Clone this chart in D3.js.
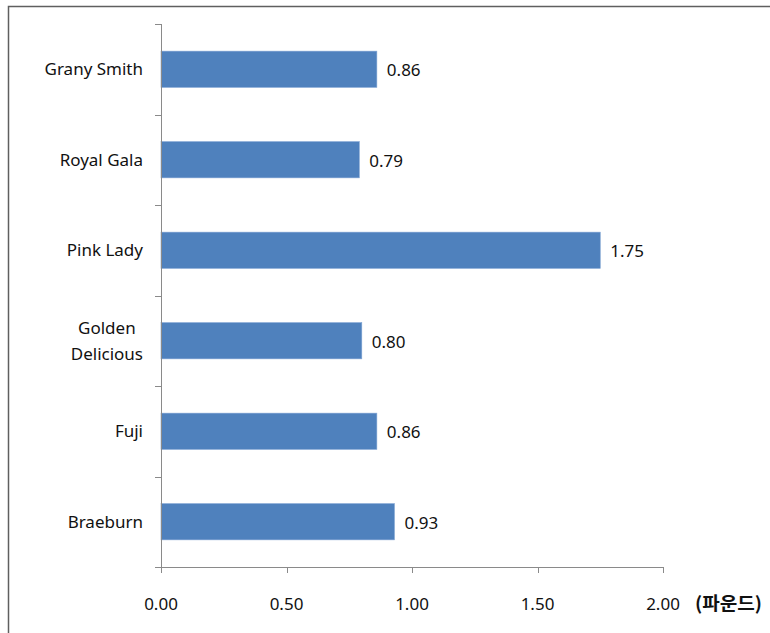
<!DOCTYPE html>
<html><head><meta charset="utf-8">
<script src="https://cdn.jsdelivr.net/npm/d3@7"></script>
<style>body{margin:0;background:#fff}svg{display:block}text{font-family:"Noto Sans","Noto Sans CJK KR",sans-serif;fill:#111}</style>
</head><body>
<script>
const categories = ["Grany Smith","Royal Gala","Pink Lady","Golden Delicious","Fuji","Braeburn"];
const categoryLines = [["Grany Smith"],["Royal Gala"],["Pink Lady"],["Golden","Delicious"],["Fuji"],["Braeburn"]];
const values = [0.86,0.79,1.75,0.80,0.86,0.93];
const xTicks = [0,0.5,1.0,1.5,2.0];
const unitLabel = "(파운드)";

const W=770,H=633;
const svg=d3.select("body").append("svg").attr("width",W).attr("height",H);
svg.append("rect").attr("x",8.5).attr("y",6.5).attr("width",900).attr("height",900)
  .attr("fill","none").attr("stroke","#5f5f5f").attr("stroke-width",1.5);

const pL=161,pR=663,pT=24,pB=567;
const x=d3.scaleLinear().domain([0,2]).range([pL,pR]);
const y=d3.scaleBand().domain(categories).range([pT,pB]).paddingInner(0.6).paddingOuter(0.3);
const fs=17;

// bars
svg.selectAll("rect.bar").data(values).join("rect").attr("class","bar")
  .attr("x",x(0)).attr("y",(d,i)=>y(categories[i]))
  .attr("width",d=>x(d)-x(0)).attr("height",y.bandwidth())
  .attr("fill","#4f81bd").attr("stroke","#7ea3d2").attr("stroke-width",0.6);

// value labels
svg.selectAll("text.val").data(values).join("text").attr("class","val")
  .attr("x",d=>x(d)+10).attr("y",(d,i)=>y(categories[i])+y.bandwidth()/2+1)
  .attr("dy","0.35em").attr("font-size",fs).text(d=>d.toFixed(2));

// axes
const axisColor="#8a8a8a";
svg.append("line").attr("x1",pL+0.5).attr("x2",pL+0.5).attr("y1",pT).attr("y2",pB+6).attr("stroke",axisColor);
svg.append("line").attr("x1",pL-6).attr("x2",pR).attr("y1",pB+0.5).attr("y2",pB+0.5).attr("stroke",axisColor);
// y ticks at band boundaries
const step=(pB-pT)/categories.length;
d3.range(categories.length+1).forEach(i=>{
  const yy=Math.round(pT+i*step)+0.5;
  svg.append("line").attr("x1",pL-6).attr("x2",pL).attr("y1",yy).attr("y2",yy).attr("stroke",axisColor);
});
// x ticks
svg.selectAll("line.xt").data(xTicks).join("line").attr("class","xt")
  .attr("x1",d=>Math.round(x(d))+0.5).attr("x2",d=>Math.round(x(d))+0.5)
  .attr("y1",pB).attr("y2",pB+6).attr("stroke",axisColor);
svg.selectAll("text.xl").data(xTicks).join("text").attr("class","xl")
  .attr("x",d=>x(d)).attr("y",604).attr("dy","0.35em").attr("text-anchor","middle")
  .attr("font-size",fs).text(d=>d.toFixed(2));
svg.append("text").attr("x",695).attr("y",604).attr("dy","0.35em")
  .style("font-family","'Noto Sans CJK KR',sans-serif")
  .attr("textLength",67).attr("lengthAdjust","spacingAndGlyphs")
  .attr("font-size",18).attr("font-weight","bold").text(unitLabel);

// category labels
const labelRight=143;
categoryLines.forEach((lines,i)=>{
  const cy=y(categories[i])+y.bandwidth()/2;
  const g=svg.append("g");
  const lh=26;
  const t=lines.map((ln,j)=>g.append("text").attr("font-size",fs).attr("y",cy+(j-(lines.length-1)/2)*lh).attr("dy","0.35em").text(ln));
  const maxW=d3.max(t,n=>n.node().getComputedTextLength());
  t.forEach(n=>n.attr("x",labelRight-maxW/2).attr("text-anchor","middle"));
});
</script>
</body></html>
